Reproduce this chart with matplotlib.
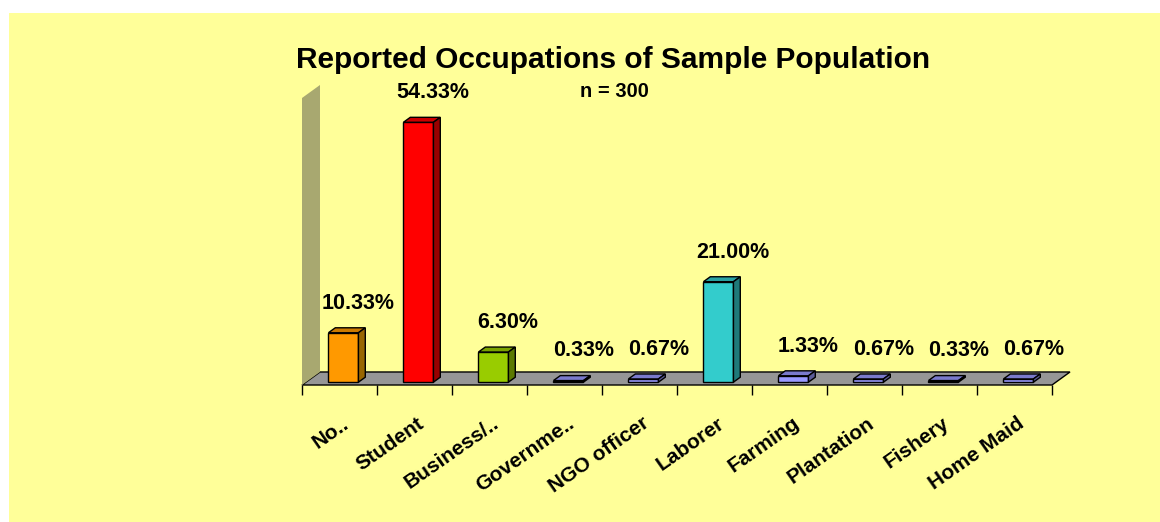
import matplotlib
matplotlib.use("Agg")
import matplotlib.pyplot as plt
import numpy as np
from matplotlib.patches import Polygon, Rectangle

plt.rcParams['font.family'] = ['Liberation Sans', 'DejaVu Sans']
plt.rcParams['font.weight'] = 'bold'

categories = ["No..", "Student", "Business/..", "Governme..", "NGO officer",
              "Laborer", "Farming", "Plantation", "Fishery", "Home Maid"]
values = [10.33, 54.33, 6.30, 0.33, 0.67, 21.00, 1.33, 0.67, 0.33, 0.67]
value_labels = ["10.33%", "54.33%", "6.30%", "0.33%", "0.67%",
                "21.00%", "1.33%", "0.67%", "0.33%", "0.67%"]
front_colors = ["#FF9900", "#FF0000", "#99CC00", "#9999FF", "#9999FF",
                "#33CCCC", "#9999FF", "#9999FF", "#9999FF", "#9999FF"]
top_colors = ["#CC7A00", "#CC0000", "#7AA300", "#7A7ACC", "#7A7ACC",
              "#29A3A3", "#7A7ACC", "#7A7ACC", "#7A7ACC", "#7A7ACC"]
side_colors = ["#996600", "#990000", "#5C7A00", "#5C5C99", "#5C5C99",
               "#1F7A7A", "#5C5C99", "#5C5C99", "#5C5C99", "#5C5C99"]

YMAX = 60
DX, DY = 0.24, 2.72      # floor depth (category units, percent units)
Z0, Z1 = 0.22, 0.60      # bar front/back depth fraction
BW = 0.4

fig = plt.figure(figsize=(11.6, 5.22), dpi=100)
fig.patch.set_facecolor("white")
fig.add_artist(Rectangle((9 / 1160, 0), 1, 1 - 13 / 522, transform=fig.transFigure,
                         facecolor="#FFFF99", edgecolor="none", zorder=-5))

ax = fig.add_axes([302 / 1160, 1 - 385 / 522, 750 / 1160, 287 / 522])
ax.set_zorder(1)
ax.set_facecolor("none")
n = len(categories)
ax.set_xlim(-0.5, n - 0.5)
ax.set_ylim(0, YMAX)
for s in ax.spines.values():
    s.set_visible(False)
ax.set_yticks([])
ax.set_xticks(np.arange(-0.5, n, 1))
ax.set_xticklabels([])
ax.tick_params(axis="x", direction="out", length=7.5, width=1, color="black")

# floor and left wall
floor = [(-0.5, 0), (n - 0.5, 0), (n - 0.5 + DX, DY), (-0.5 + DX, DY)]
ax.add_patch(Polygon(floor, closed=True, facecolor="#969696", edgecolor="black",
                     lw=1, clip_on=False, zorder=1))
wall = [(-0.5, 0), (-0.5, YMAX), (-0.5 + DX, YMAX + DY), (-0.5 + DX, DY)]
ax.add_patch(Polygon(wall, closed=True, facecolor="#A8A870", edgecolor="none",
                     clip_on=False, zorder=1))

xs = np.arange(n)
x0 = xs - BW / 2 + Z0 * DX
y0 = Z0 * DY
bx = (Z1 - Z0) * DX
by = (Z1 - Z0) * DY
ax.bar(x0, values, width=BW, bottom=y0, align="edge", color=front_colors,
       edgecolor="black", lw=1, zorder=3, clip_on=False)
for i, v in enumerate(values):
    xl, xr = x0[i], x0[i] + BW
    yt = y0 + v
    top = [(xl, yt), (xr, yt), (xr + bx, yt + by), (xl + bx, yt + by)]
    side = [(xr, y0), (xr + bx, y0 + by), (xr + bx, yt + by), (xr, yt)]
    ax.add_patch(Polygon(top, closed=True, facecolor=top_colors[i], edgecolor="black",
                         lw=1, clip_on=False, zorder=3))
    ax.add_patch(Polygon(side, closed=True, facecolor=side_colors[i], edgecolor="black",
                         lw=1, clip_on=False, zorder=3))
    ax.text(xs[i] + 0.25, yt + 4.0, value_labels[i], ha="center", va="bottom",
            fontsize=15.5, fontweight="bold", clip_on=False)
    ax.text(xs[i] + 0.03, -6.0, categories[i], ha="right", va="top", rotation=35,
            rotation_mode="anchor", fontsize=15, fontweight="bold", clip_on=False)

fig.text(613 / 1160, 1 - 68 / 522, "Reported Occupations of Sample Population",
         ha="center", va="baseline", fontsize=21.5, fontweight="bold")
fig.text(614 / 1160, 1 - 97 / 522, "n = 300", ha="center", va="baseline",
         fontsize=14.5, fontweight="bold")

fig.savefig("out.png", dpi=100, facecolor=fig.get_facecolor())
